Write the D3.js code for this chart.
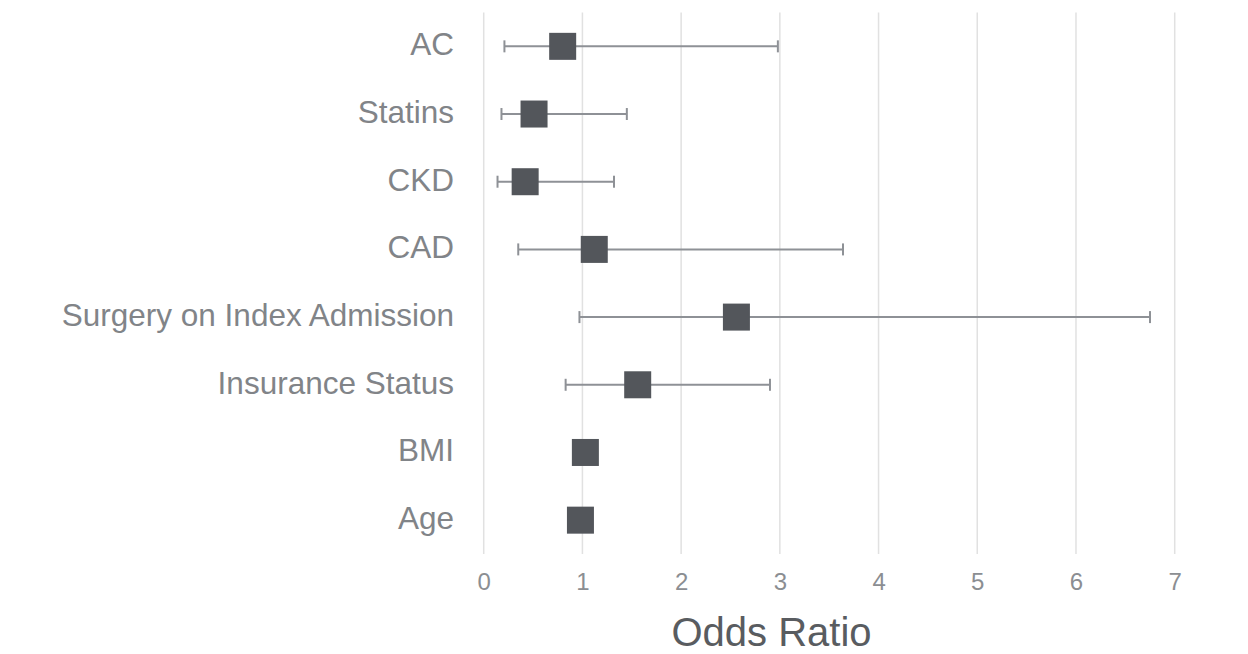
<!DOCTYPE html>
<html>
<head>
<meta charset="utf-8">
<script src="https://cdn.jsdelivr.net/npm/d3@7"></script>
<style>
  html, body { margin: 0; padding: 0; background: #ffffff; }
  svg text { font-family: "Liberation Sans", Arial, sans-serif; }
</style>
</head>
<body>
<svg id="chart" width="1248" height="654"></svg>
<script>
// Odds ratios with 95% confidence intervals, top row first
const factors = ["AC", "Statins", "CKD", "CAD", "Surgery on Index Admission", "Insurance Status", "BMI", "Age"];
const oddsRatio = [0.80, 0.51, 0.42, 1.12, 2.56, 1.56, 1.03, 0.98];
const ciLower   = [0.21, 0.18, 0.14, 0.35, 0.97, 0.83, null, null];
const ciUpper   = [2.98, 1.45, 1.32, 3.64, 6.75, 2.90, null, null];
const xTicks    = [0, 1, 2, 3, 4, 5, 6, 7];
const xTitle    = "Odds Ratio";

const rows = factors.map((f, i) => ({ name: f, or: oddsRatio[i], lo: ciLower[i], hi: ciUpper[i] }));

const svg = d3.select("#chart");
const plot = { left: 483.7, right: 1174.7, top: 12.5, bottom: 554 };

const x = d3.scaleLinear().domain([0, 7]).range([plot.left, plot.right]);
const y = d3.scaleBand().domain(factors).range([plot.top, plot.bottom]);

// vertical gridlines
svg.append("g")
  .selectAll("line")
  .data(xTicks)
  .join("line")
  .attr("x1", d => x(d)).attr("x2", d => x(d))
  .attr("y1", plot.top).attr("y2", plot.bottom)
  .attr("stroke", "#e1e1e1")
  .attr("stroke-width", 1.5);

// x axis tick labels
const xAxis = d3.axisBottom(x).tickValues(xTicks).tickSize(0).tickPadding(0).tickFormat(d3.format("d"));
const gx = svg.append("g").attr("transform", `translate(0,${plot.bottom})`).call(xAxis);
gx.attr("font-family", null).attr("font-size", null);
gx.select(".domain").remove();
gx.selectAll("text")
  .attr("y", 36)
  .attr("dy", null)
  .attr("fill", "#8b8e92")
  .style("font-size", "24px");

// category labels
const yAxis = d3.axisLeft(y).tickSize(0).tickPadding(0);
const gy = svg.append("g").attr("transform", `translate(454,0)`).call(yAxis);
gy.attr("font-family", null).attr("font-size", null);
gy.select(".domain").remove();
gy.selectAll("text")
  .attr("x", 0)
  .attr("dy", "0.28em")
  .attr("fill", "#818488")
  .style("font-size", "31.5px");

// confidence interval whiskers
const ci = rows.filter(r => r.lo != null);
const cy = d => y(d.name) + y.bandwidth() / 2;
const capH = 6;
const whisk = svg.append("g").attr("stroke", "#8e9196").attr("stroke-width", 2).attr("fill", "none");
whisk.selectAll("line.span").data(ci).join("line").attr("class", "span")
  .attr("x1", d => x(d.lo)).attr("x2", d => x(d.hi))
  .attr("y1", cy).attr("y2", cy);
whisk.selectAll("line.lo").data(ci).join("line").attr("class", "lo")
  .attr("x1", d => x(d.lo)).attr("x2", d => x(d.lo))
  .attr("y1", d => cy(d) - capH).attr("y2", d => cy(d) + capH);
whisk.selectAll("line.hi").data(ci).join("line").attr("class", "hi")
  .attr("x1", d => x(d.hi)).attr("x2", d => x(d.hi))
  .attr("y1", d => cy(d) - capH).attr("y2", d => cy(d) + capH);

// point estimates
const sq = 27;
svg.append("g").selectAll("rect").data(rows).join("rect")
  .attr("x", d => x(d.or) - sq / 2)
  .attr("y", d => cy(d) - sq / 2)
  .attr("width", sq).attr("height", sq)
  .attr("fill", "#53565b");

// axis title
svg.append("text")
  .attr("x", 771.5)
  .attr("y", 646)
  .attr("text-anchor", "middle")
  .attr("fill", "#595c60")
  .style("font-size", "40px")
  .text(xTitle);
</script>
</body>
</html>
